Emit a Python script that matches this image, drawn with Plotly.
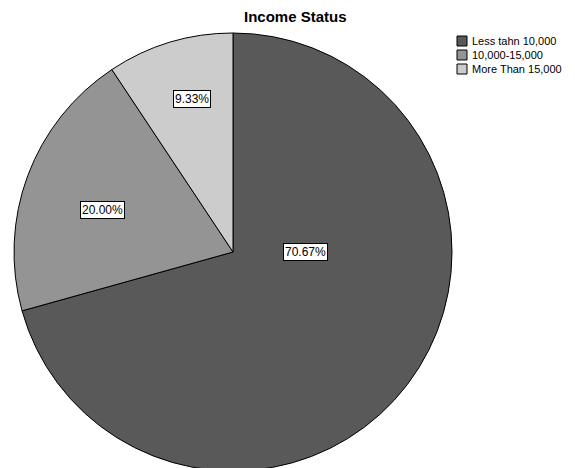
import plotly.graph_objects as go

categories = ["Less tahn 10,000", "10,000-15,000", "More Than 15,000"]
percents = [70.67, 20.00, 9.33]
slice_colors = ["#595959", "#949494", "#cccccc"]

W, H = 575, 468
OFF = 8  # page body margin
cx, cy, R = 233 - OFF, 252 - OFF, 219

def px(x):
    return (x - OFF) / W

def py(y):
    return 1 - (y - OFF) / H

fig = go.Figure(go.Pie(
    labels=categories,
    values=percents,
    sort=False,
    direction="clockwise",
    rotation=0,
    textinfo="none",
    hoverinfo="label+percent",
    showlegend=False,
    marker=dict(colors=slice_colors, line=dict(color="#000000", width=1)),
    domain=dict(x=[(cx - R) / W, (cx + R) / W], y=[1 - (cy + R) / H, 1 - (cy - R) / H]),
))

FONT = "Liberation Sans, Arial"

# slice label boxes
label_pos = [(305, 252), (102, 210), (192, 99)]
for txt, (lx, ly) in zip([f"{v:.2f}%" for v in percents], label_pos):
    fig.add_annotation(
        x=px(lx), y=py(ly), xref="paper", yref="paper",
        xanchor="center", yanchor="middle",
        text=txt, showarrow=False,
        font=dict(family=FONT, size=12, color="#000000"),
        bgcolor="#ffffff", bordercolor="#000000", borderwidth=1, borderpad=1,
    )

# legend (swatch + text)
leg_x, leg_y0, leg_dy, sw = 457, 41, 14, 10
for i, (name, col) in enumerate(zip(categories, slice_colors)):
    yc = leg_y0 + i * leg_dy
    fig.add_shape(type="rect", xref="paper", yref="paper",
                  x0=px(leg_x), x1=px(leg_x + sw), y0=py(yc - sw / 2), y1=py(yc + sw / 2),
                  fillcolor=col, line=dict(color="#000000", width=1))
    fig.add_annotation(x=px(leg_x + sw + 3), y=py(yc), xref="paper", yref="paper",
                       xanchor="left", yanchor="middle", showarrow=False, text=name,
                       font=dict(family=FONT, size=11, color="#000000"))

fig.update_layout(
    width=W, height=H,
    margin=dict(l=0, r=0, t=0, b=0),
    paper_bgcolor="#ffffff",
    plot_bgcolor="#ffffff",
    title=dict(text="<b>Income Status</b>", x=px(244), xanchor="left", y=py(17), yanchor="middle",
               font=dict(family=FONT, size=15, color="#000000")),
    showlegend=False,
)

fig.write_html("out.html")
